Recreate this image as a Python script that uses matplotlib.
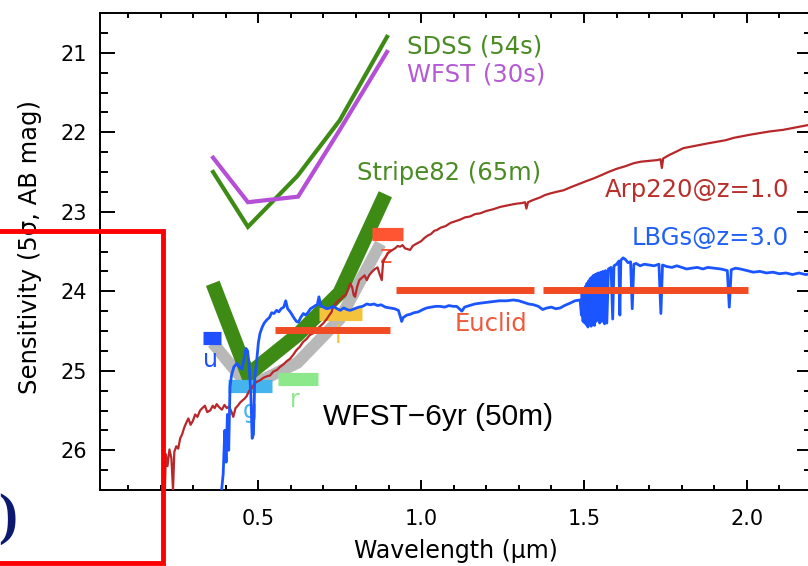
import matplotlib
matplotlib.use("Agg")
import matplotlib.pyplot as plt
from matplotlib.patches import Rectangle
from matplotlib.ticker import MultipleLocator, FormatStrFormatter

# 5-sigma depths per band (u, g, r, i, z), AB mag
sdss_wl = [0.361, 0.468, 0.620, 0.750, 0.895]
sdss_mag = [22.50, 23.19, 22.55, 21.85, 20.80]
wfst30_wl = [0.361, 0.468, 0.622, 0.750, 0.895]
wfst30_mag = [22.32, 22.88, 22.81, 21.97, 20.99]
stripe82_wl = [0.360, 0.468, 0.620, 0.750, 0.890]
stripe82_mag = [23.90, 25.05, 24.55, 24.02, 22.78]
wfst6yr_wl = [0.360, 0.470, 0.620, 0.750, 0.875]
wfst6yr_mag = [24.65, 25.20, 24.90, 24.35, 23.40]

# WFST-6yr filter bars
band_names = ['u', 'g', 'r', 'i', 'z']
band_lo = [0.331, 0.407, 0.560, 0.686, 0.848]
band_hi = [0.385, 0.541, 0.683, 0.819, 0.944]
band_mag = [24.59, 25.19, 25.10, 24.29, 23.28]
band_colors = ['#1f4fff', '#45b4ee', '#8de88c', '#f5c33b', '#ff5533']
band_label_wl = [0.353, 0.475, 0.613, 0.746, 0.894]
band_label_mag = [24.95, 25.59, 25.45, 24.65, 23.645]

# Euclid VIS + NISP depths
euclid_lo = [0.551, 0.923, 1.374]
euclid_hi = [0.905, 1.347, 2.005]
euclid_mag = [24.49, 23.98, 23.98]

# Arp220 template redshifted to z=1.0
arp_wl = [0.213, 0.216, 0.221, 0.227, 0.233, 0.238, 0.242, 0.248, 0.254, 0.260,
          0.266, 0.272, 0.278, 0.285, 0.292, 0.299, 0.306, 0.313, 0.321, 0.328,
          0.336, 0.343, 0.352, 0.360, 0.366, 0.372, 0.380, 0.388, 0.396, 0.403,
          0.410, 0.418, 0.423, 0.430, 0.437, 0.444, 0.452, 0.458, 0.464, 0.472,
          0.480, 0.488, 0.495, 0.505, 0.515, 0.526, 0.536, 0.546, 0.557, 0.567,
          0.577, 0.587, 0.597, 0.607, 0.617, 0.627, 0.637, 0.648, 0.658, 0.668,
          0.679, 0.690, 0.700, 0.710, 0.718, 0.725, 0.730, 0.737, 0.745, 0.753,
          0.761, 0.768, 0.775, 0.782, 0.788, 0.793, 0.797, 0.803, 0.810, 0.818,
          0.826, 0.833, 0.840, 0.848, 0.858, 0.866, 0.872, 0.879, 0.883, 0.890,
          0.897, 0.904, 0.912, 0.920, 0.928, 0.935, 0.943, 0.950, 0.958, 0.966,
          0.974, 0.982, 0.991, 1.000, 1.010, 1.020, 1.030, 1.040, 1.048, 1.060,
          1.075, 1.090, 1.105, 1.119, 1.135, 1.150, 1.165, 1.181, 1.200, 1.220,
          1.242, 1.265, 1.290, 1.310, 1.319, 1.323, 1.328, 1.345, 1.365, 1.380,
          1.396, 1.415, 1.437, 1.460, 1.485, 1.510, 1.530, 1.553, 1.575, 1.600,
          1.625, 1.652, 1.675, 1.700, 1.725, 1.735, 1.739, 1.743, 1.760, 1.780,
          1.805, 1.830, 1.855, 1.880, 1.908, 1.935, 1.960, 1.985, 2.011, 2.040,
          2.070, 2.111, 2.150, 2.200]
arp_mag = [26.50, 26.05, 26.20, 25.99, 26.10, 26.50, 26.02, 25.95, 25.98, 25.85,
           25.80, 25.72, 25.66, 25.60, 25.68, 25.63, 25.55, 25.58, 25.50, 25.47,
           25.44, 25.52, 25.50, 25.44, 25.47, 25.42, 25.46, 25.49, 25.43, 25.47,
           25.45, 25.52, 25.58, 25.47, 25.44, 25.40, 25.37, 25.35, 25.32, 25.25,
           25.22, 25.16, 25.14, 25.12, 25.09, 25.07, 25.06, 25.01, 24.99, 24.95,
           24.92, 24.88, 24.85, 24.80, 24.74, 24.70, 24.64, 24.60, 24.55, 24.53,
           24.48, 24.44, 24.40, 24.35, 24.30, 24.26, 24.19, 24.16, 24.12, 24.10,
           24.06, 24.05, 23.98, 23.90, 23.95, 24.05, 24.07, 23.95, 23.86, 23.83,
           23.80, 23.86, 23.80, 23.76, 23.72, 23.70, 23.78, 23.86, 23.63, 23.58,
           23.52, 23.50, 23.48, 23.46, 23.43, 23.44, 23.42, 23.46, 23.47, 23.48,
           23.43, 23.41, 23.39, 23.37, 23.33, 23.30, 23.28, 23.24, 23.23, 23.20,
           23.18, 23.14, 23.12, 23.10, 23.07, 23.06, 23.03, 23.02, 22.99, 22.97,
           22.94, 22.92, 22.90, 22.89, 22.88, 22.96, 22.88, 22.85, 22.82, 22.79,
           22.77, 22.75, 22.73, 22.69, 22.65, 22.61, 22.58, 22.54, 22.50, 22.46,
           22.43, 22.39, 22.37, 22.36, 22.35, 22.34, 22.45, 22.33, 22.29, 22.25,
           22.20, 22.18, 22.16, 22.14, 22.12, 22.10, 22.07, 22.05, 22.03, 22.01,
           21.99, 21.97, 21.94, 21.90]

# Lyman-break galaxy template at z=3.0
lbg_wl = [0.386, 0.392, 0.397, 0.401, 0.405, 0.409, 0.413, 0.418, 0.425, 0.434,
          0.442, 0.450, 0.456, 0.462, 0.467, 0.472, 0.477, 0.481, 0.485, 0.489,
          0.495, 0.500, 0.505, 0.512, 0.518, 0.526, 0.534, 0.541, 0.548, 0.556,
          0.563, 0.570, 0.578, 0.584, 0.590, 0.598, 0.604, 0.610, 0.617, 0.623,
          0.630, 0.638, 0.645, 0.652, 0.660, 0.668, 0.675, 0.681, 0.686, 0.692,
          0.700, 0.710, 0.720, 0.730, 0.742, 0.752, 0.762, 0.772, 0.782, 0.795,
          0.808, 0.820, 0.833, 0.843, 0.855, 0.866, 0.877, 0.890, 0.904, 0.918,
          0.930, 0.936, 0.940, 0.945, 0.956, 0.966, 0.978, 0.991, 1.005, 1.017,
          1.030, 1.045, 1.058, 1.072, 1.085, 1.098, 1.109, 1.117, 1.125, 1.133,
          1.148, 1.165, 1.181, 1.200, 1.220, 1.240, 1.262, 1.283, 1.300, 1.315,
          1.330, 1.345, 1.360, 1.373, 1.386, 1.400, 1.413, 1.427, 1.440, 1.457,
          1.472, 1.488, 1.492, 1.494, 1.497, 1.499, 1.502, 1.504, 1.507, 1.509,
          1.512, 1.514, 1.517, 1.519, 1.522, 1.524, 1.527, 1.529, 1.532, 1.534,
          1.537, 1.539, 1.542, 1.544, 1.548, 1.551, 1.555, 1.558, 1.563, 1.566,
          1.570, 1.575, 1.583, 1.588, 1.592, 1.600, 1.607, 1.610, 1.613, 1.620,
          1.627, 1.635, 1.643, 1.648, 1.653, 1.660, 1.672, 1.685, 1.700, 1.715,
          1.730, 1.736, 1.741, 1.755, 1.770, 1.785, 1.800, 1.815, 1.830, 1.848,
          1.865, 1.880, 1.900, 1.920, 1.940, 1.946, 1.952, 1.965, 1.980, 2.000,
          2.020, 2.040, 2.060, 2.080, 2.100, 2.120, 2.140, 2.160, 2.180, 2.200]
lbg_mag = [26.55, 26.30, 25.75, 26.15, 25.55, 26.00, 25.20, 25.05, 24.95, 24.91,
           24.95, 24.98, 24.85, 24.72, 24.75, 24.95, 25.30, 25.85, 25.80, 25.10,
           24.87, 24.65, 24.53, 24.45, 24.40, 24.36, 24.33, 24.27, 24.28, 24.24,
           24.26, 24.22, 24.20, 24.12, 24.22, 24.26, 24.30, 24.34, 24.38, 24.39,
           24.33, 24.28, 24.30, 24.27, 24.22, 24.20, 24.18, 24.17, 24.07, 24.18,
           24.20, 24.22, 24.21, 24.19, 24.22, 24.24, 24.21, 24.23, 24.24, 24.22,
           24.20, 24.19, 24.16, 24.17, 24.16, 24.18, 24.17, 24.20, 24.21, 24.22,
           24.24, 24.32, 24.38, 24.33, 24.30, 24.29, 24.27, 24.26, 24.23, 24.21,
           24.20, 24.19, 24.19, 24.20, 24.18, 24.19, 24.19, 24.22, 24.25, 24.20,
           24.18, 24.16, 24.15, 24.14, 24.13, 24.12, 24.12, 24.11, 24.12, 24.14,
           24.16, 24.17, 24.19, 24.23, 24.21, 24.20, 24.22, 24.21, 24.18, 24.15,
           24.12, 24.11, 24.30, 24.02, 24.38, 23.98, 24.40, 23.94, 24.42, 23.90,
           24.45, 23.87, 24.42, 23.84, 24.44, 23.82, 24.40, 23.80, 24.43, 23.79,
           24.38, 23.78, 24.35, 23.77, 24.40, 23.76, 24.38, 23.75, 24.41, 23.74,
           24.40, 23.72, 23.70, 24.35, 23.68, 23.66, 23.62, 24.30, 23.61, 23.58,
           23.60, 23.64, 23.63, 24.22, 23.66, 23.65, 23.68, 23.66, 23.67, 23.68,
           23.66, 24.28, 23.67, 23.69, 23.70, 23.68, 23.70, 23.72, 23.71, 23.70,
           23.72, 23.70, 23.71, 23.72, 23.74, 24.20, 23.73, 23.71, 23.72, 23.74,
           23.76, 23.75, 23.77, 23.76, 23.78, 23.77, 23.79, 23.77, 23.79, 23.78]

W, H = 808, 566
fig = plt.figure(figsize=(W / 100, H / 100), dpi=100)
fig.patch.set_facecolor('white')
ax = fig.add_axes([100 / W, 76 / H, 712 / W, 477 / H])

# survey depth curves
ax.plot(wfst6yr_wl, wfst6yr_mag, color='#b8b8b8', lw=8.6,
        solid_capstyle='butt', solid_joinstyle='miter', zorder=2)
ax.plot(stripe82_wl, stripe82_mag, color='#3d8b14', lw=10.5,
        solid_capstyle='butt', solid_joinstyle='miter', zorder=3)
ax.plot(sdss_wl, sdss_mag, color='#3d8b14', lw=3, solid_joinstyle='miter', zorder=3)
ax.plot(wfst30_wl, wfst30_mag, color='#b44fd6', lw=3, solid_joinstyle='miter', zorder=3)

# filter bars with band letters underneath
for name, lo, hi, m, c, lx, ly in zip(band_names, band_lo, band_hi, band_mag,
                                      band_colors, band_label_wl, band_label_mag):
    ax.text(lx, ly, name, color=c, fontsize=17, ha='center', va='baseline', zorder=3.5)
    ax.plot([lo, hi], [m, m], color=c, lw=9.5, solid_capstyle='butt', zorder=4)

# galaxy templates
ax.plot(arp_wl, arp_mag, color='#b8282a', lw=1.6, zorder=5)
ax.plot(lbg_wl, lbg_mag, color='#1a55ff', lw=2.0, zorder=6)

for lo, hi, m in zip(euclid_lo, euclid_hi, euclid_mag):
    ax.plot([lo, hi], [m, m], color='#f04b23', lw=5, solid_capstyle='butt', zorder=7)

ax.text(0.956, 21.01, 'SDSS (54s)', color='#4a8c23', fontsize=17.5, va='baseline')
ax.text(0.956, 21.364, 'WFST (30s)', color='#b45ad3', fontsize=17.5, va='baseline')
ax.text(0.802, 22.60, 'Stripe82 (65m)', color='#4a8c23', fontsize=17.5, va='baseline')
ax.text(1.565, 22.81, 'Arp220@z=1.0', color='#b8302b', fontsize=17.5, va='baseline')
ax.text(1.647, 23.42, 'LBGs@z=3.0', color='#2160f5', fontsize=17.5, va='baseline')
ax.text(1.104, 24.50, 'Euclid', color='#f0583a', fontsize=17.5, va='baseline')
ax.text(0.699, 25.68, 'WFST\u22126yr (50m)', color='black', fontsize=21.5,
        family='Liberation Sans', va='baseline')

ax.set_xlim(0.0138, 2.2)
ax.set_ylim(26.5, 20.5)
ax.xaxis.set_major_locator(MultipleLocator(0.5))
ax.xaxis.set_minor_locator(MultipleLocator(0.1))
ax.xaxis.set_major_formatter(FormatStrFormatter('%.1f'))
ax.yaxis.set_major_locator(MultipleLocator(1))
ax.yaxis.set_minor_locator(MultipleLocator(0.25))
ax.yaxis.set_major_formatter(FormatStrFormatter('%d'))

ax.tick_params(which='both', direction='in', top=True, right=True, width=1.4)
ax.tick_params(axis='x', which='major', length=7.2, pad=14, labelsize=15)
ax.tick_params(axis='x', which='minor', length=3.6)
ax.tick_params(axis='y', which='major', length=10.8, pad=9, labelsize=15)
ax.tick_params(axis='y', which='minor', length=5.8)
for s in ax.spines.values():
    s.set_linewidth(1.4)

ax.set_xlabel('Wavelength (\u03bcm)', fontsize=17)
ax.set_ylabel('Sensitivity (5\u03c3, AB mag)', fontsize=17.5)
ax.xaxis.set_label_coords(0.5, -0.103)
ax.yaxis.set_label_coords(-0.082, 0.51)

# panel marker and highlight box
fig.text(-0.002, 1 - 533 / H, ')', fontsize=41, color='#0b1a70', fontweight='bold',
         family='Liberation Serif', ha='left', va='baseline')
fig.add_artist(Rectangle((-0.02, 3 / H), 163 / W + 0.02, 332 / H, fill=False,
                         edgecolor='#ff0000', lw=3.5, transform=fig.transFigure))

fig.savefig('out.png', dpi=100)
